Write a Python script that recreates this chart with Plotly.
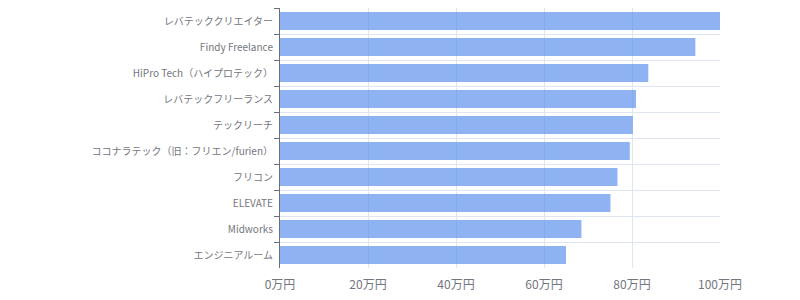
import plotly.graph_objects as go

services = [
    "レバテッククリエイター",
    "Findy Freelance",
    "HiPro Tech（ハイプロテック）",
    "レバテックフリーランス",
    "テックリーチ",
    "ココナラテック（旧：フリエン/furien）",
    "フリコン",
    "ELEVATE",
    "Midworks",
    "エンジニアルーム",
]
values = [100, 94.4, 83.7, 80.9, 80.2, 79.5, 76.7, 75.1, 68.5, 65.0]
x_ticks = [0, 20, 40, 60, 80, 100]
x_tick_labels = ["0万円", "20万円", "40万円", "60万円", "80万円", "100万円"]

FONT = "Noto Sans CJK JP, Noto Sans, sans-serif"
GRID = "#e0e6f1"
AXIS = "#6e7079"
TEXT = "#74767e"

fig = go.Figure(
    go.Bar(
        x=values,
        y=services,
        orientation="h",
        marker=dict(color="rgba(100,149,237,0.72)", line=dict(width=0)),
    )
)

fig.update_layout(
    width=800,
    height=300,
    margin=dict(l=280, r=80, t=8, b=30),
    paper_bgcolor="white",
    plot_bgcolor="white",
    bargap=0.31,
    showlegend=False,
    font=dict(family=FONT, color=TEXT),
)

fig.update_xaxes(
    range=[0, 100],
    tickvals=x_ticks,
    ticktext=x_tick_labels,
    showgrid=True,
    gridcolor=GRID,
    gridwidth=1,
    zeroline=False,
    showline=False,
    ticks="",
    ticklabelstandoff=8,
    tickfont=dict(size=12, color=TEXT, family=FONT),
)

fig.update_yaxes(
    type="category",
    categoryorder="array",
    categoryarray=services,
    autorange="reversed",
    tickson="boundaries",
    ticks="outside",
    ticklen=5,
    tickcolor=AXIS,
    showline=True,
    linecolor=AXIS,
    linewidth=1,
    showgrid=True,
    gridcolor=GRID,
    gridwidth=1,
    zeroline=False,
    ticklabelstandoff=4,
    tickfont=dict(size=10, color=TEXT, family=FONT),
)

fig.write_html("out.html")
